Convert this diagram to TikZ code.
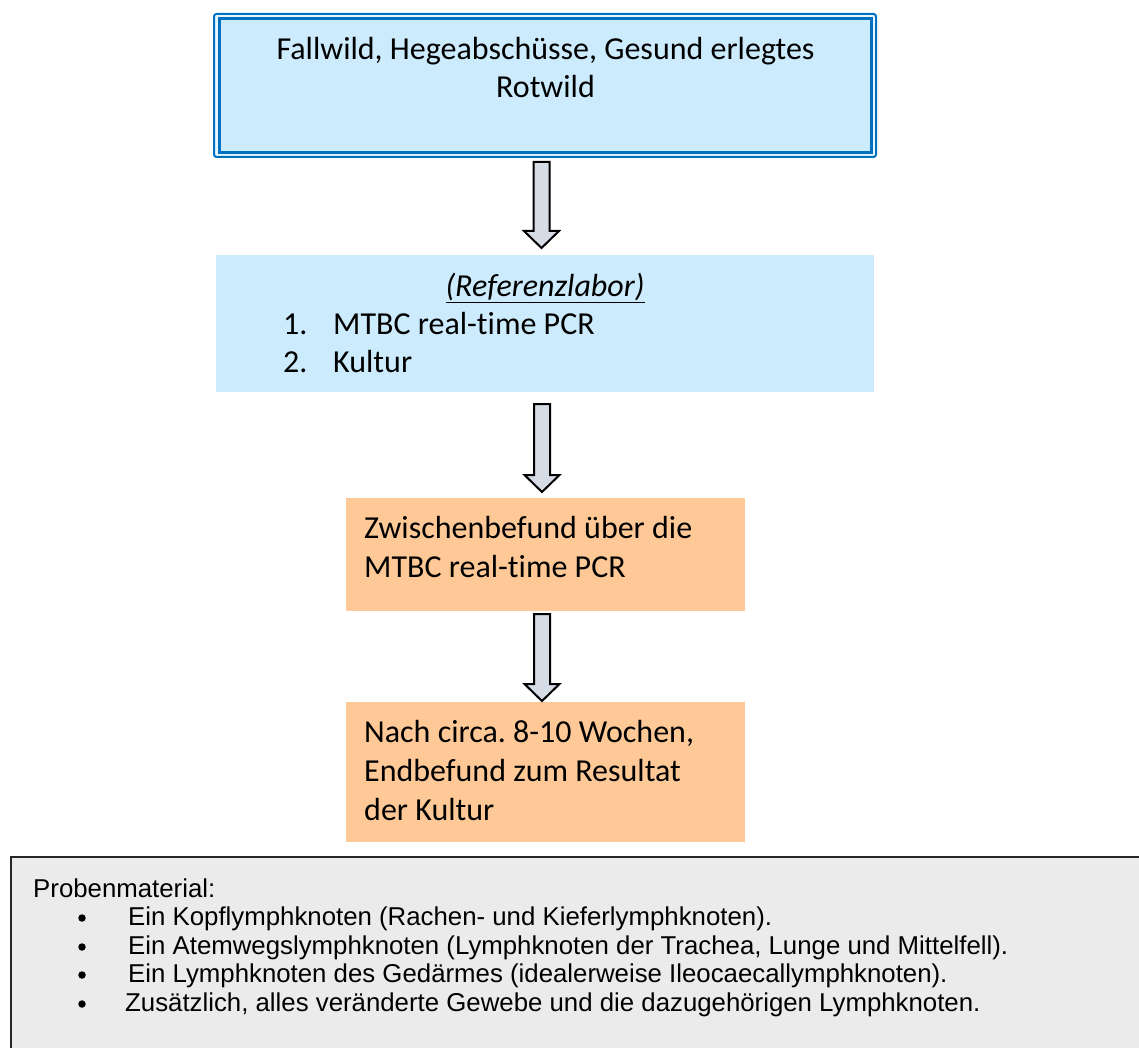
\documentclass[tikz,border=0pt]{standalone}
\usepackage{fontspec}
\setmainfont{Carlito}[Ligatures={NoCommon}]
\newfontfamily\arialf{Liberation Sans}
\usetikzlibrary{calc}
\definecolor{lblue}{HTML}{CCEBFD}
\definecolor{bblue}{HTML}{0070C0}
\definecolor{peach}{HTML}{FFC997}
\definecolor{agray}{HTML}{D6DCE5}
\definecolor{pgray}{HTML}{EBEBEB}
\newcommand\blockarr[2]{%
  \draw[barrow] let \p1=#1, \p2=#2 in
    (\x1-8pt,\y1) -- (\x1+8pt,\y1) -- (\x1+8pt,\y2+17pt) -- (\x1+17.5pt,\y2+17pt)
    -- (\x1,\y2) -- (\x1-17.5pt,\y2+17pt) -- (\x1-8pt,\y2+17pt) -- cycle;}
\frenchspacing
\begin{document}
\begin{tikzpicture}[x=1pt,y=-1pt,
  box/.style={inner sep=0pt, outer sep=0pt, anchor=north west},
  ftext/.style={inner sep=0pt, font=\fontsize{32}{38}\selectfont},
  ptext/.style={inner sep=0pt, anchor=base west, font=\arialf\fontsize{25.8}{29}\selectfont},
  bul/.style={circle, fill=black, inner sep=0pt, minimum size=7.5pt},
  barrow/.style={draw=black, line width=2pt, fill=agray, line join=miter}]
\useasboundingbox (0,0) rectangle (1139,1048);
\clip (0,0) rectangle (1139,1048);
\fill[white] (0,0) rectangle (1139,1048);

% top box (double frame)
\node[box, draw=bblue, line width=2pt, fill=lblue!45, rounded corners=2.5pt,
      minimum width=662pt, minimum height=143pt] (srcouter) at (214,14) {};
\node[box, anchor=center, draw=bblue, line width=3pt, fill=lblue,
      minimum width=652pt, minimum height=134pt] (src) at (srcouter.center) {};
\node[ftext, anchor=base] (t1) at (545.5,60) {Fallwild, Hegeabschüsse, Gesund erlegtes};
\node[ftext, anchor=base] (t2) at (545.5,98) {Rotwild};

% reference lab box
\node[box, fill=lblue, minimum width=658pt, minimum height=137pt] (lab) at (216,255) {};
\node[ftext, anchor=base] (l0) at (545,296) {\underline{\itshape (Referenzlabor)}};
\node[ftext, anchor=base west] (l1n) at (283,334) {1.};
\node[ftext, anchor=base west] (l1) at (333,334) {MTBC real-time PCR};
\node[ftext, anchor=base west] (l2n) at (283,372) {2.};
\node[ftext, anchor=base west] (l2) at (333,372) {Kultur};

% orange boxes
\node[box, fill=peach, minimum width=399pt, minimum height=113pt] (z1) at (346,498) {};
\node[ftext, anchor=base west] (z1a) at (364,538) {Zwischenbefund über die};
\node[ftext, anchor=base west] (z1b) at (364,577) {MTBC real-time PCR};

\node[box, fill=peach, minimum width=399pt, minimum height=140pt] (z2) at (346,702) {};
\node[ftext, anchor=base west] (z2a) at (364,742) {Nach circa. 8-10 Wochen,};
\node[ftext, anchor=base west] (z2b) at (364,781) {Endbefund zum Resultat};
\node[ftext, anchor=base west] (z2c) at (364,820) {der Kultur};

% block arrows
\blockarr{($(srcouter.south)+(-3.5,5)$)}{($(lab.north)+(-3,-7)$)}
\blockarr{($(lab.south)+(-3,12)$)}{($(z1.north)+(-3.5,-6)$)}
\blockarr{($(z1.south)+(-3.5,3)$)}{($(z2.north)+(-3.5,-1)$)}

% sample material box
\node[box, draw=black!85, line width=2pt, fill=pgray,
      minimum width=1170pt, minimum height=230pt] (mat) at (11,857) {};
\node[ptext] (m0) at (33,897) {Probenmaterial:};
\foreach \yy/\nm in {918/b1,947/b2,975/b3,1004/b4}
  \node[bul] (\nm) at (82,\yy) {};
\node[ptext] (m1) at (128,925) {Ein Kopflymphknoten (Rachen- und Kieferlymphknoten).};
\node[ptext] (m2) at (128,954) {Ein Atemwegslymphknoten (Lymphknoten der Trachea, Lunge und Mittelfell).};
\node[ptext] (m3) at (128,982) {Ein Lymphknoten des Gedärmes (idealerweise Ileocaecallymphknoten).};
\node[ptext] (m4) at (125,1011) {Zusätzlich, alles veränderte Gewebe und die dazugehörigen Lymphknoten.};
\end{tikzpicture}
\end{document}
